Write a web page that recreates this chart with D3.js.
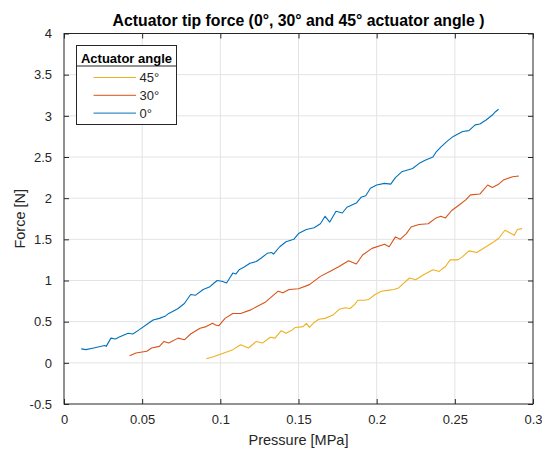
<!DOCTYPE html>
<html>
<head>
<meta charset="utf-8">
<script src="https://cdn.jsdelivr.net/npm/d3@7"></script>
<style>
  body { margin: 0; background: #fff; }
  text { font-family: "Liberation Sans", Arial, sans-serif; fill: #262626; }
</style>
</head>
<body>
<svg width="542" height="450"></svg>
<script>
// pressure [MPa] / force [N]
const p0 = [0.011, 0.014, 0.019, 0.026, 0.027, 0.030, 0.033, 0.035, 0.041, 0.044, 0.048, 0.054, 0.057, 0.061, 0.065, 0.067, 0.071, 0.073, 0.077, 0.081, 0.084, 0.089, 0.093, 0.096, 0.098, 0.101, 0.104, 0.106, 0.108, 0.110, 0.112, 0.115, 0.119, 0.123, 0.126, 0.130, 0.133, 0.134, 0.138, 0.142, 0.145, 0.147, 0.150, 0.155, 0.160, 0.164, 0.167, 0.170, 0.174, 0.178, 0.181, 0.187, 0.190, 0.193, 0.196, 0.200, 0.205, 0.209, 0.212, 0.216, 0.223, 0.227, 0.231, 0.236, 0.238, 0.241, 0.245, 0.249, 0.255, 0.259, 0.263, 0.266, 0.270, 0.274, 0.276, 0.278];
const f0 = [0.17, 0.16, 0.18, 0.21, 0.20, 0.30, 0.29, 0.31, 0.36, 0.35, 0.40, 0.48, 0.52, 0.54, 0.57, 0.60, 0.64, 0.66, 0.72, 0.83, 0.82, 0.89, 0.92, 0.97, 1.00, 0.99, 0.97, 1.03, 1.09, 1.08, 1.13, 1.16, 1.21, 1.23, 1.27, 1.33, 1.34, 1.32, 1.41, 1.47, 1.49, 1.50, 1.57, 1.62, 1.64, 1.69, 1.78, 1.71, 1.84, 1.82, 1.89, 1.94, 2.01, 2.03, 2.12, 2.16, 2.18, 2.17, 2.25, 2.32, 2.36, 2.42, 2.46, 2.50, 2.56, 2.62, 2.69, 2.75, 2.81, 2.82, 2.89, 2.90, 2.95, 3.01, 3.05, 3.08];

const p30 = [0.042, 0.046, 0.053, 0.056, 0.061, 0.064, 0.067, 0.073, 0.077, 0.081, 0.087, 0.091, 0.095, 0.097, 0.099, 0.103, 0.108, 0.113, 0.119, 0.125, 0.129, 0.137, 0.140, 0.144, 0.150, 0.157, 0.164, 0.170, 0.176, 0.182, 0.187, 0.191, 0.197, 0.205, 0.208, 0.212, 0.215, 0.219, 0.222, 0.227, 0.233, 0.238, 0.241, 0.244, 0.248, 0.253, 0.257, 0.260, 0.266, 0.271, 0.274, 0.278, 0.281, 0.287, 0.291];
const f30 = [0.085, 0.12, 0.14, 0.18, 0.20, 0.26, 0.24, 0.30, 0.28, 0.35, 0.42, 0.44, 0.48, 0.46, 0.45, 0.54, 0.60, 0.60, 0.64, 0.70, 0.74, 0.87, 0.85, 0.89, 0.90, 0.95, 1.05, 1.11, 1.17, 1.24, 1.20, 1.31, 1.39, 1.44, 1.41, 1.53, 1.50, 1.57, 1.65, 1.68, 1.69, 1.76, 1.78, 1.76, 1.85, 1.92, 1.98, 2.04, 2.05, 2.16, 2.13, 2.17, 2.22, 2.26, 2.27];

const p45 = [0.091, 0.095, 0.101, 0.108, 0.113, 0.118, 0.123, 0.127, 0.132, 0.135, 0.139, 0.142, 0.146, 0.148, 0.153, 0.155, 0.157, 0.160, 0.163, 0.167, 0.172, 0.176, 0.180, 0.183, 0.186, 0.188, 0.192, 0.195, 0.199, 0.203, 0.207, 0.211, 0.214, 0.221, 0.225, 0.230, 0.236, 0.240, 0.244, 0.247, 0.252, 0.255, 0.259, 0.264, 0.270, 0.275, 0.278, 0.282, 0.286, 0.288, 0.290, 0.293];
const f45 = [0.05, 0.07, 0.11, 0.16, 0.22, 0.18, 0.26, 0.24, 0.31, 0.30, 0.39, 0.36, 0.40, 0.43, 0.44, 0.48, 0.43, 0.49, 0.53, 0.54, 0.58, 0.65, 0.67, 0.66, 0.71, 0.76, 0.76, 0.77, 0.83, 0.87, 0.88, 0.89, 0.91, 1.03, 1.01, 1.07, 1.13, 1.11, 1.17, 1.25, 1.25, 1.29, 1.36, 1.34, 1.41, 1.47, 1.51, 1.61, 1.57, 1.55, 1.62, 1.63];

const seriesNames = ["45°", "30°", "0°"];
const seriesColors = ["#EDB120", "#D95319", "#0072BD"];
const xTicks = [0, 0.05, 0.1, 0.15, 0.2, 0.25, 0.3];
const yTicks = [-0.5, 0, 0.5, 1, 1.5, 2, 2.5, 3, 3.5, 4];

const series = [
  { name: "0°", color: seriesColors[2], p: p0, f: f0 },
  { name: "30°", color: seriesColors[1], p: p30, f: f30 },
  { name: "45°", color: seriesColors[0], p: p45, f: f45 }
];

const svg = d3.select("svg");
const L = 64, R = 533, T = 33.5, B = 404;

const x = d3.scaleLinear().domain([0, 0.3]).range([L, R]);
const y = d3.scaleLinear().domain([-0.5, 4]).range([B, T]);

// grid
svg.append("g")
  .selectAll("line")
  .data(xTicks.slice(1, -1))
  .enter().append("line")
  .attr("x1", d => x(d)).attr("x2", d => x(d))
  .attr("y1", T).attr("y2", B)
  .attr("stroke", "#e3e3e3").attr("stroke-width", 1);
svg.append("g")
  .selectAll("line")
  .data(yTicks.slice(1, -1))
  .enter().append("line")
  .attr("x1", L).attr("x2", R)
  .attr("y1", d => y(d)).attr("y2", d => y(d))
  .attr("stroke", "#e3e3e3").attr("stroke-width", 1);

// lines
const line = d3.line().x(d => x(d[0])).y(d => y(d[1]));
series.forEach(s => {
  svg.append("path")
    .datum(d3.zip(s.p, s.f))
    .attr("d", line)
    .attr("fill", "none")
    .attr("stroke", s.color)
    .attr("stroke-width", 1.1)
    .attr("stroke-linejoin", "round");
});

// axes: ticks inside, box
const fmt = d => String(d);
const axisStyle = g => {
  g.select(".domain").remove();
  g.selectAll(".tick line").attr("stroke", "#262626");
  g.selectAll(".tick text").attr("fill", "#262626")
    .style("font-family", "'Liberation Sans', Arial, sans-serif")
    .style("font-size", "13px");
};
svg.append("g").attr("transform", `translate(0,${B})`)
  .call(d3.axisBottom(x).tickValues(xTicks).tickFormat(fmt).tickSizeInner(-5).tickSizeOuter(0).tickPadding(11))
  .call(axisStyle);
svg.append("g").attr("transform", `translate(0,${T})`)
  .call(d3.axisTop(x).tickValues(xTicks).tickFormat("").tickSizeInner(-5).tickSizeOuter(0))
  .call(axisStyle);
svg.append("g").attr("transform", `translate(${L},0)`)
  .call(d3.axisLeft(y).tickValues(yTicks).tickFormat(fmt).tickSizeInner(-5).tickSizeOuter(0).tickPadding(12))
  .call(axisStyle);
svg.append("g").attr("transform", `translate(${R},0)`)
  .call(d3.axisRight(y).tickValues(yTicks).tickFormat("").tickSizeInner(-5).tickSizeOuter(0))
  .call(axisStyle);

svg.append("rect")
  .attr("x", L).attr("y", T)
  .attr("width", R - L).attr("height", B - T)
  .attr("fill", "none").attr("stroke", "#262626").attr("stroke-width", 1);

// labels
svg.append("text")
  .attr("x", (L + R) / 2).attr("y", 26)
  .attr("text-anchor", "middle")
  .style("font-size", "15.8px").style("font-weight", "bold")
  .style("fill", "#000")
  .text("Actuator tip force (0°, 30° and 45° actuator angle )");
svg.append("text")
  .attr("x", (L + R) / 2).attr("y", 445)
  .attr("text-anchor", "middle")
  .style("font-size", "14.5px")
  .text("Pressure [MPa]");
svg.append("text")
  .attr("transform", `translate(25,${(T + B) / 2}) rotate(-90)`)
  .attr("text-anchor", "middle")
  .style("font-size", "14.5px")
  .text("Force [N]");

// legend
const lg = svg.append("g").attr("transform", "translate(76.5,45.5)");
lg.append("rect")
  .attr("width", 100).attr("height", 79)
  .attr("fill", "#fff").attr("stroke", "#262626").attr("stroke-width", 1);
lg.append("line")
  .attr("x1", 0).attr("x2", 100).attr("y1", 20.5).attr("y2", 20.5)
  .attr("stroke", "#262626").attr("stroke-width", 1);
lg.append("text")
  .attr("x", 50).attr("y", 17)
  .attr("text-anchor", "middle")
  .style("font-size", "13px").style("font-weight", "bold")
  .style("fill", "#000")
  .text("Actuator angle");
seriesNames.forEach((n, i) => {
  const yy = 32 + i * 17.8;
  lg.append("line")
    .attr("x1", 17).attr("x2", 59.5).attr("y1", yy).attr("y2", yy)
    .attr("stroke", seriesColors[i]).attr("stroke-width", 1);
  lg.append("text")
    .attr("x", 63).attr("y", yy + 4.5)
    .style("font-size", "13px")
    .text(n);
});
</script>
</body>
</html>
